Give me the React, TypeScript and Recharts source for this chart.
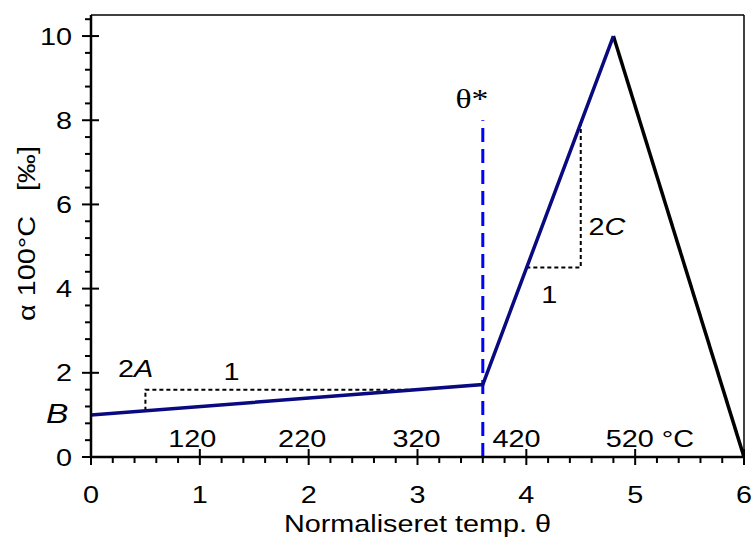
import React from 'react';
import { LineChart, Line, XAxis, YAxis, ReferenceDot, ReferenceLine } from 'recharts';

// expansion curve (normalised temperature vs alpha)
const heatX = [0, 3.6, 4.8];
const heatY = [1, 1.72, 10];
const coolX = [4.8, 6];
const coolY = [10, 0];
const thetaStarX = [3.6, 3.6];
const thetaStarY = [0, 8];
// slope helper triangles
const slopeAX = [0.5, 0.5, 3.0];
const slopeAY = [1.1, 1.6, 1.6];
const slopeCX = [4.0, 4.5, 4.5];
const slopeCY = [4.5, 4.5, 8];

const xMajor = [0, 1, 2, 3, 4, 5, 6];
const yMajor = [0, 2, 4, 6, 8, 10];
const celsiusLabels = ['120', '220', '320', '420', '520 °C'];
const celsiusX = [0.93, 1.94, 2.99, 3.91, 4.73];
const celsiusY = 0.24;

const toPts = (xs: number[], ys: number[]) => xs.map((x, i) => ({ x, y: ys[i] }));

const FONT = '"Liberation Sans", Arial, sans-serif';
const SX = 1.2;

const xTicks = Array.from({ length: 31 }, (_, i) => Math.round(i * 2) / 10);
const yTicks = Array.from({ length: 27 }, (_, i) => Math.round(i * 4) / 10);

const isMajor = (v: number, list: number[]) => list.some((m) => Math.abs(m - v) < 1e-6);

const SText = ({ x, y, anchor = 'middle', size = 24, family = FONT, children }: any) => (
  <text
    transform={`translate(${x},${y}) scale(${SX},1)`}
    textAnchor={anchor}
    fontSize={size}
    fontFamily={family}
    fill="#000"
  >
    {children}
  </text>
);

const XTick = (props: any) => {
  const { x, y, payload } = props;
  const major = isMajor(payload.value, xMajor);
  return (
    <g>
      <line x1={x} x2={x} y1={major ? y - 8 : y} y2={major ? y + 8 : y + 6} stroke="#000" strokeWidth={2} />
      {major && <SText x={x} y={y + 46}>{payload.value}</SText>}
    </g>
  );
};

const YTick = (props: any) => {
  const { x, y, payload } = props;
  const major = isMajor(payload.value, yMajor);
  return (
    <g>
      <line x1={major ? x - 9 : x - 6} x2={major ? x + 8 : x} y1={y} y2={y} stroke="#000" strokeWidth={2} />
      {major && <SText x={x - 19} y={y + 8.5} anchor="end">{payload.value}</SText>}
    </g>
  );
};

const annotations = [
  { x: -0.31, y: 0.81, size: 28, parts: [['B', true]] },
  { x: 0.41, y: 1.9, size: 24, parts: [['2', false], ['A', true]] },
  { x: 1.29, y: 1.83, size: 24, parts: [['1', false]] },
  { x: 4.74, y: 5.28, size: 24, parts: [['2', false], ['C', true]] },
  { x: 4.21, y: 3.66, size: 24, parts: [['1', false]] },
];

const Annot = ({ cx, cy, parts, anchor = 'middle', family = FONT, size = 24 }: any) => (
  <text
    transform={`translate(${cx},${cy}) scale(${SX},1)`}
    textAnchor={anchor}
    fontSize={size}
    fontFamily={family}
    fill="#000"
  >
    {parts.map((p: any, i: number) => (
      <tspan key={i} fontStyle={p[1] ? 'italic' : 'normal'}>{p[0]}</tspan>
    ))}
  </text>
);

const YTitle = (props: any) => {
  const vb = props.viewBox;
  const cx = vb.x + 27;
  return (
    <g>
      <g transform={`translate(${cx},${vb.y + 253.5}) rotate(-90) scale(${SX},1)`}>
        <text textAnchor="middle" dominantBaseline="central" fontSize={24} fontFamily={FONT}>α 100°C</text>
      </g>
      <g transform={`translate(${cx},${vb.y + 153.5}) rotate(-90) scale(${SX},1)`}>
        <text textAnchor="middle" dominantBaseline="central" fontSize={24} fontFamily={FONT}>[‰]</text>
      </g>
    </g>
  );
};

const XTitle = (props: any) => {
  const vb = props.viewBox;
  return <SText x={vb.x + 326.5} y={vb.y + 75}>Normaliseret temp. θ</SText>;
};

export default function App() {
  return (
    <div style={{ position: 'absolute', left: 0, top: 0, width: 752, height: 539, background: '#fff' }}>
      <LineChart width={752} height={539} margin={{ top: 15, right: 8, left: 0, bottom: 0 }}>
        <XAxis
          type="number"
          dataKey="x"
          domain={[0, 6]}
          ticks={xTicks}
          interval={0}
          height={82}
          tickSize={0}
          tickMargin={0}
          tickLine={false}
          axisLine={{ stroke: '#000', strokeWidth: 2.5 }}
          tick={<XTick />}
          label={{ content: <XTitle /> }}
          allowDataOverflow
        />
        <YAxis
          type="number"
          dataKey="y"
          domain={[0, 10.5]}
          ticks={yTicks}
          interval={0}
          width={91}
          tickSize={0}
          tickMargin={0}
          tickLine={false}
          axisLine={{ stroke: '#000', strokeWidth: 2.5 }}
          tick={<YTick />}
          label={{ content: <YTitle /> }}
          allowDataOverflow
        />
        <ReferenceLine y={10.5} stroke="#000" strokeWidth={1.5} />
        <ReferenceLine x={6} stroke="#000" strokeWidth={1.5} />
        <Line data={toPts(slopeAX, slopeAY)} dataKey="y" stroke="#000" strokeWidth={2} strokeDasharray="4 3" dot={false} isAnimationActive={false} />
        <Line data={toPts(slopeCX, slopeCY)} dataKey="y" stroke="#000" strokeWidth={2} strokeDasharray="4 3" dot={false} isAnimationActive={false} />
        <Line data={toPts(thetaStarX, thetaStarY)} dataKey="y" stroke="#0000ff" strokeWidth={3} strokeDasharray="14 7" dot={false} isAnimationActive={false} />
        <Line data={toPts(coolX, coolY)} dataKey="y" stroke="#000" strokeWidth={3.5} dot={false} isAnimationActive={false} />
        <Line data={toPts(heatX, heatY)} dataKey="y" stroke="#0a0a80" strokeWidth={3.5} dot={false} isAnimationActive={false} />
        {celsiusLabels.map((t, i) => (
          <ReferenceDot
            key={'c' + i}
            x={celsiusX[i]}
            y={celsiusY}
            r={0}
            ifOverflow="visible"
            shape={(p: any) => (
              <Annot cx={p.cx} cy={p.cy} parts={[[t, false]]} anchor={i === 4 ? 'start' : 'middle'} />
            )}
          />
        ))}
        {annotations.map((a, i) => (
          <ReferenceDot
            key={'a' + i}
            x={a.x}
            y={a.y}
            r={0}
            ifOverflow="visible"
            shape={(p: any) => <Annot cx={p.cx} cy={p.cy} parts={a.parts} size={a.size} />}
          />
        ))}
        <ReferenceDot
          x={3.5}
          y={8.3}
          r={0}
          ifOverflow="visible"
          shape={(p: any) => (
            <Annot cx={p.cx} cy={p.cy} parts={[['θ*', false]]} family='"Liberation Serif", "Times New Roman", serif' size={28} />
          )}
        />
      </LineChart>
    </div>
  );
}
